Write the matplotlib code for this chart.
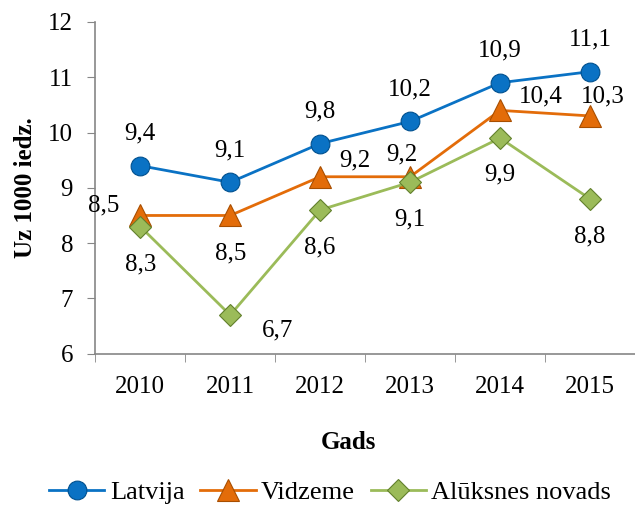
import numpy as np
import matplotlib.pyplot as plt

plt.rcParams['font.family'] = ['Liberation Serif', 'DejaVu Serif']

# dati
years = ['2010', '2011', '2012', '2013', '2014', '2015']
latvija = [9.4, 9.1, 9.8, 10.2, 10.9, 11.1]
vidzeme = [8.5, 8.5, 9.2, 9.2, 10.4, 10.3]
aluksne = [8.3, 6.7, 8.6, 9.1, 9.9, 8.8]

# etiķešu nobīdes (punktos)
off_lat = [(0, 23)] * 6
off_vid = [(-26, 7), (0, -27), (25, 12), (-6, 16), (29, 10), (9, 14)]
off_alu = [(0, -27), (34, -11), (0, -27), (0, -27), (0, -26), (0, -27)]

series = [
    ('Latvija', latvija, '#0A72C4', '#00508F', 'o', 13.5, off_lat),
    ('Vidzeme', vidzeme, '#E36C09', '#A84E00', '^', 15.5, off_vid),
    ('Alūksnes novads', aluksne, '#9BBB59', '#62802C', 'D', 11.5, off_alu),
]

fig = plt.figure(figsize=(6.35, 5.09), dpi=100)
ax = fig.add_axes([0.150, 0.305, 0.85, 0.652])
x = np.arange(len(years))

for name, vals, col, edge, mk, ms, offs in series:
    ax.plot(x, vals, color=col, lw=2, marker=mk, markersize=ms,
            markerfacecolor=col, markeredgecolor=edge, markeredgewidth=0.8,
            label=name, zorder=3)
    for xi, v, o in zip(x, vals, offs):
        ax.annotate(f'{v:.1f}'.replace('.', ','), (xi, v), xytext=o,
                    textcoords='offset points', ha='center', va='center',
                    fontsize=18, zorder=5)

ax.set_ylim(6, 12)
ax.set_xlim(-0.5, 5.5)
ax.set_yticks(range(6, 13))
ax.set_xticks(x)
ax.set_xticklabels(years)
ax.set_xticks(np.arange(-0.5, 6, 1), minor=True)
ax.tick_params(axis='x', which='major', length=0, pad=16, labelsize=18)
ax.tick_params(axis='x', which='minor', length=6, color='#868686')
ax.tick_params(axis='y', length=6, color='#868686', labelsize=18, pad=10)
for s in ['top', 'right']:
    ax.spines[s].set_visible(False)
for s in ['left', 'bottom']:
    ax.spines[s].set_color('#868686')
    ax.spines[s].set_linewidth(1.2)

ax.set_ylabel('Uz 1000 iedz.', fontsize=18, fontweight='bold', labelpad=8)
ax.set_xlabel('Gads', fontsize=18, fontweight='bold')
ax.xaxis.set_label_coords(0.47, -0.232)

fig.legend(loc='center', bbox_to_anchor=(0.52, 0.033), ncol=3, frameon=False,
           fontsize=19, handlelength=2.1, columnspacing=0.6, handletextpad=0.2,
           borderpad=0)

fig.savefig('out.png', dpi=100)
